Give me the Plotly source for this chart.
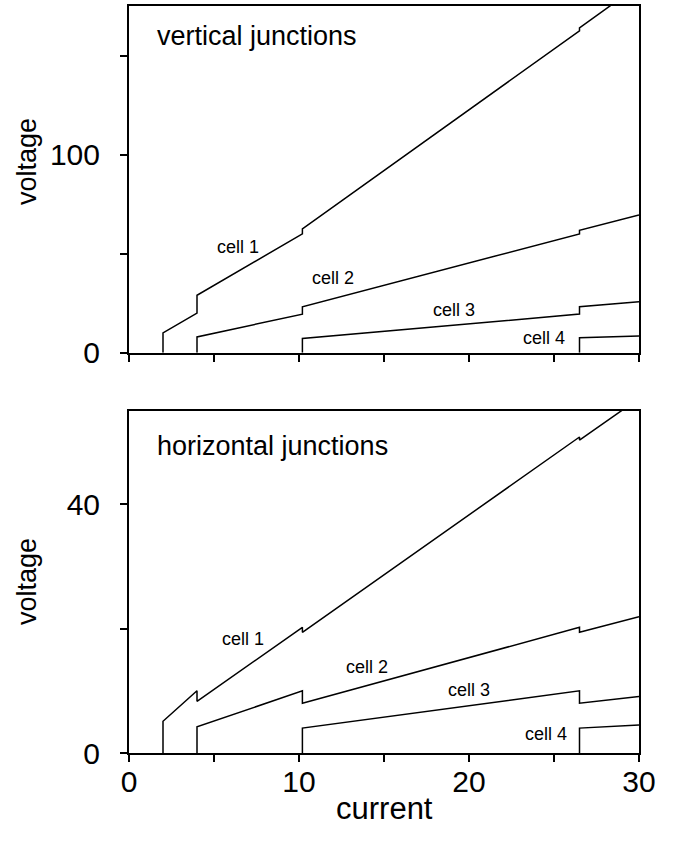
import plotly.graph_objects as go

# ---- data: top panel (vertical junctions) ----
vj_c1_x = [2, 2, 4, 4, 10.2, 10.2, 26.5, 26.5, 30]
vj_c1_y = [0, 10, 20, 29, 60, 62.5, 162.5, 164, 185.5]
vj_c2_x = [4, 4, 10.2, 10.2, 26.5, 26.5, 30]
vj_c2_y = [0, 8, 19.5, 23.2, 60, 61.8, 69.5]
vj_c3_x = [10.2, 10.2, 26.5, 26.5, 30]
vj_c3_y = [0, 7.2, 19.5, 23.2, 25.8]
vj_c4_x = [26.5, 26.5, 30]
vj_c4_y = [0, 7.6, 8.4]

# ---- data: bottom panel (horizontal junctions) ----
hj_c1_x = [2, 2, 4, 4, 10.2, 10.2, 26.5, 26.5, 30]
hj_c1_y = [0, 5.1, 10, 8.3, 20.2, 19.4, 50.8, 50.3, 57.0]
hj_c2_x = [4, 4, 10.2, 10.2, 26.5, 26.5, 30]
hj_c2_y = [0, 4.2, 10, 8.0, 20.2, 19.4, 21.9]
hj_c3_x = [10.2, 10.2, 26.5, 26.5, 30]
hj_c3_y = [0, 4.0, 10, 8.0, 9.1]
hj_c4_x = [26.5, 26.5, 30]
hj_c4_y = [0, 4.0, 4.5]

x_ticks = [0, 5, 10, 15, 20, 25, 30]
x_tick_labels_bottom = ["0", "", "10", "", "20", "", "30"]
x_tick_labels_top = ["", "", "", "", "", "", ""]
y_ticks_top = [0, 50, 100, 150]
y_tick_labels_top = ["0", "", "100", ""]
y_ticks_bottom = [0, 20, 40]
y_tick_labels_bottom = ["0", "", "40"]

cell_names = ["cell 1", "cell 2", "cell 3", "cell 4"]
top_label_x = [6.4, 12.0, 19.1, 24.4]
top_label_y = [53.4, 37.7, 21.8, 7.2]
bot_label_x = [6.7, 14.0, 20.0, 24.5]
bot_label_y = [18.3, 13.8, 10.1, 3.1]

FONT = "Liberation Sans, Arial, Helvetica, sans-serif"

fig = go.Figure()
line = dict(color="black", width=1.5)
for xs, ys in [(vj_c1_x, vj_c1_y), (vj_c2_x, vj_c2_y), (vj_c3_x, vj_c3_y), (vj_c4_x, vj_c4_y)]:
    fig.add_trace(go.Scatter(x=xs, y=ys, mode="lines", line=line, xaxis="x", yaxis="y", showlegend=False))
for xs, ys in [(hj_c1_x, hj_c1_y), (hj_c2_x, hj_c2_y), (hj_c3_x, hj_c3_y), (hj_c4_x, hj_c4_y)]:
    fig.add_trace(go.Scatter(x=xs, y=ys, mode="lines", line=line, xaxis="x2", yaxis="y2", showlegend=False))

axis_common = dict(
    showgrid=False, zeroline=False, showline=True, linecolor="black", linewidth=2,
    mirror=True, ticks="outside", ticklen=7, tickwidth=2, tickcolor="black",
    tickfont=dict(family=FONT, size=30, color="black"),
)

annotations = []
annotations.append(dict(text="vertical junctions", x=1.5, y=160, xref="x", yref="y",
                        xanchor="left", yanchor="middle", showarrow=False,
                        font=dict(family=FONT, size=27, color="black")))
annotations.append(dict(text="horizontal junctions", x=1.5, y=49.4, xref="x2", yref="y2",
                        xanchor="left", yanchor="middle", showarrow=False,
                        font=dict(family=FONT, size=27, color="black")))
for name, lx, ly in zip(cell_names, top_label_x, top_label_y):
    annotations.append(dict(text=name, x=lx, y=ly, xref="x", yref="y", showarrow=False,
                            font=dict(family=FONT, size=18, color="black")))
for name, lx, ly in zip(cell_names, bot_label_x, bot_label_y):
    annotations.append(dict(text=name, x=lx, y=ly, xref="x2", yref="y2", showarrow=False,
                            font=dict(family=FONT, size=18, color="black")))
# axis titles
annotations.append(dict(text="voltage", textangle=-90, xref="paper", yref="y domain",
                        x=0, y=0.55, xshift=-102, xanchor="center", yanchor="middle",
                        showarrow=False, font=dict(family=FONT, size=27, color="black")))
annotations.append(dict(text="voltage", textangle=-90, xref="paper", yref="y2 domain",
                        x=0, y=0.5, xshift=-102, xanchor="center", yanchor="middle",
                        showarrow=False, font=dict(family=FONT, size=27, color="black")))
annotations.append(dict(text="current", xref="x2 domain", yref="paper",
                        x=0.5, y=0, yshift=-55, xanchor="center", yanchor="middle",
                        showarrow=False, font=dict(family=FONT, size=31, color="black")))

fig.update_layout(
    width=678, height=842,
    margin=dict(l=129, r=39, t=4, b=89),
    paper_bgcolor="white", plot_bgcolor="white",
    xaxis=dict(axis_common, domain=[0, 1], range=[0, 30], anchor="y",
               tickvals=x_ticks, ticktext=x_tick_labels_top),
    yaxis=dict(axis_common, domain=[0.5358, 1], range=[0, 175], anchor="x",
               tickvals=y_ticks_top, ticktext=y_tick_labels_top, ticklabelstandoff=14),
    xaxis2=dict(axis_common, domain=[0, 1], range=[0, 30], anchor="y2",
                tickvals=x_ticks, ticktext=x_tick_labels_bottom, ticklabelstandoff=-6),
    yaxis2=dict(axis_common, domain=[0, 0.458], range=[0, 55], anchor="x2",
                tickvals=y_ticks_bottom, ticktext=y_tick_labels_bottom, ticklabelstandoff=14),
    annotations=annotations,
)

fig.write_html("out.html", config={"displayModeBar": False},
               post_script="document.body.style.margin='0';document.body.style.padding='0';")
